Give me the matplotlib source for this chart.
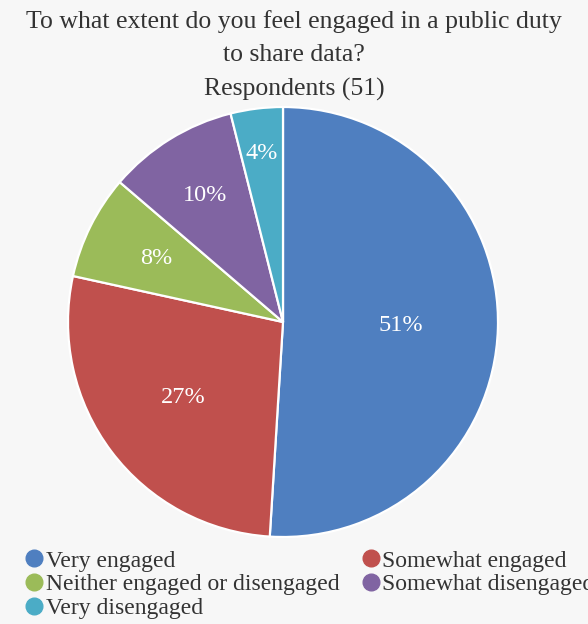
import numpy as np
import matplotlib.pyplot as plt
from matplotlib.lines import Line2D

# ── data ──────────────────────────────────────────────────────────────────────

categories = ['Very engaged', 'Somewhat engaged', 'Neither engaged or disengaged',
              'Somewhat disengaged', 'Very disengaged']
counts     = [26, 14, 4, 5, 2]          # 51 respondents
colors     = ['#4f7fc0', '#c0504d', '#9bbb59', '#8064a2', '#4bacc6']
label_dist = [0.55, 0.58, 0.66, 0.69, 0.79]   # label radius per slice

title = 'To what extent do you feel engaged in a public duty\nto share data?\nRespondents (51)'

plt.rcParams['font.family'] = ['Liberation Serif', 'DejaVu Serif']
bg = '#f7f7f7'
txt = '#333333'

# ── figure ────────────────────────────────────────────────────────────────────

W, H = 588, 624
fig = plt.figure(figsize=(W / 100, H / 100), dpi=100, facecolor=bg)

cx, cy, r = 283, 322, 215
ax = fig.add_axes([(cx - r) / W, (H - cy - r) / H, 2 * r / W, 2 * r / H])
ax.set_facecolor(bg)

wedges, _ = ax.pie(counts, colors=colors, startangle=90, counterclock=False,
                   radius=1, wedgeprops=dict(edgecolor='white', linewidth=1.6))

total = sum(counts)
for w, c, d in zip(wedges, counts, label_dist):
    ang = np.deg2rad((w.theta1 + w.theta2) / 2)
    ax.text(d * np.cos(ang), d * np.sin(ang), f'{100 * c / total:.0f}%',
            ha='center', va='center', color='white', fontsize=17.5)

ax.set_xlim(-1, 1)
ax.set_ylim(-1, 1)
ax.axis('off')

fig.text(0.5, 1 - 10 / H, title, ha='center', va='top', fontsize=18.5,
         color=txt, linespacing=1.65)

# legend filled row by row (matplotlib fills columns, so reorder)
order = [0, 2, 4, 1, 3]
handles = [Line2D([], [], marker='o', linestyle='', markersize=12,
                  markerfacecolor=colors[i], markeredgecolor=colors[i])
           for i in order]
labels = [categories[i] for i in order]
fig.legend(handles, labels, loc='upper left', bbox_to_anchor=(25 / W, 1 - 550 / H),
           ncol=2, frameon=False, fontsize=17, handlelength=0.8,
           handletextpad=0.1, labelspacing=0.1, columnspacing=0.9,
           borderpad=0, borderaxespad=0, labelcolor=txt)

fig.savefig('out.png', dpi=100, facecolor=bg)
